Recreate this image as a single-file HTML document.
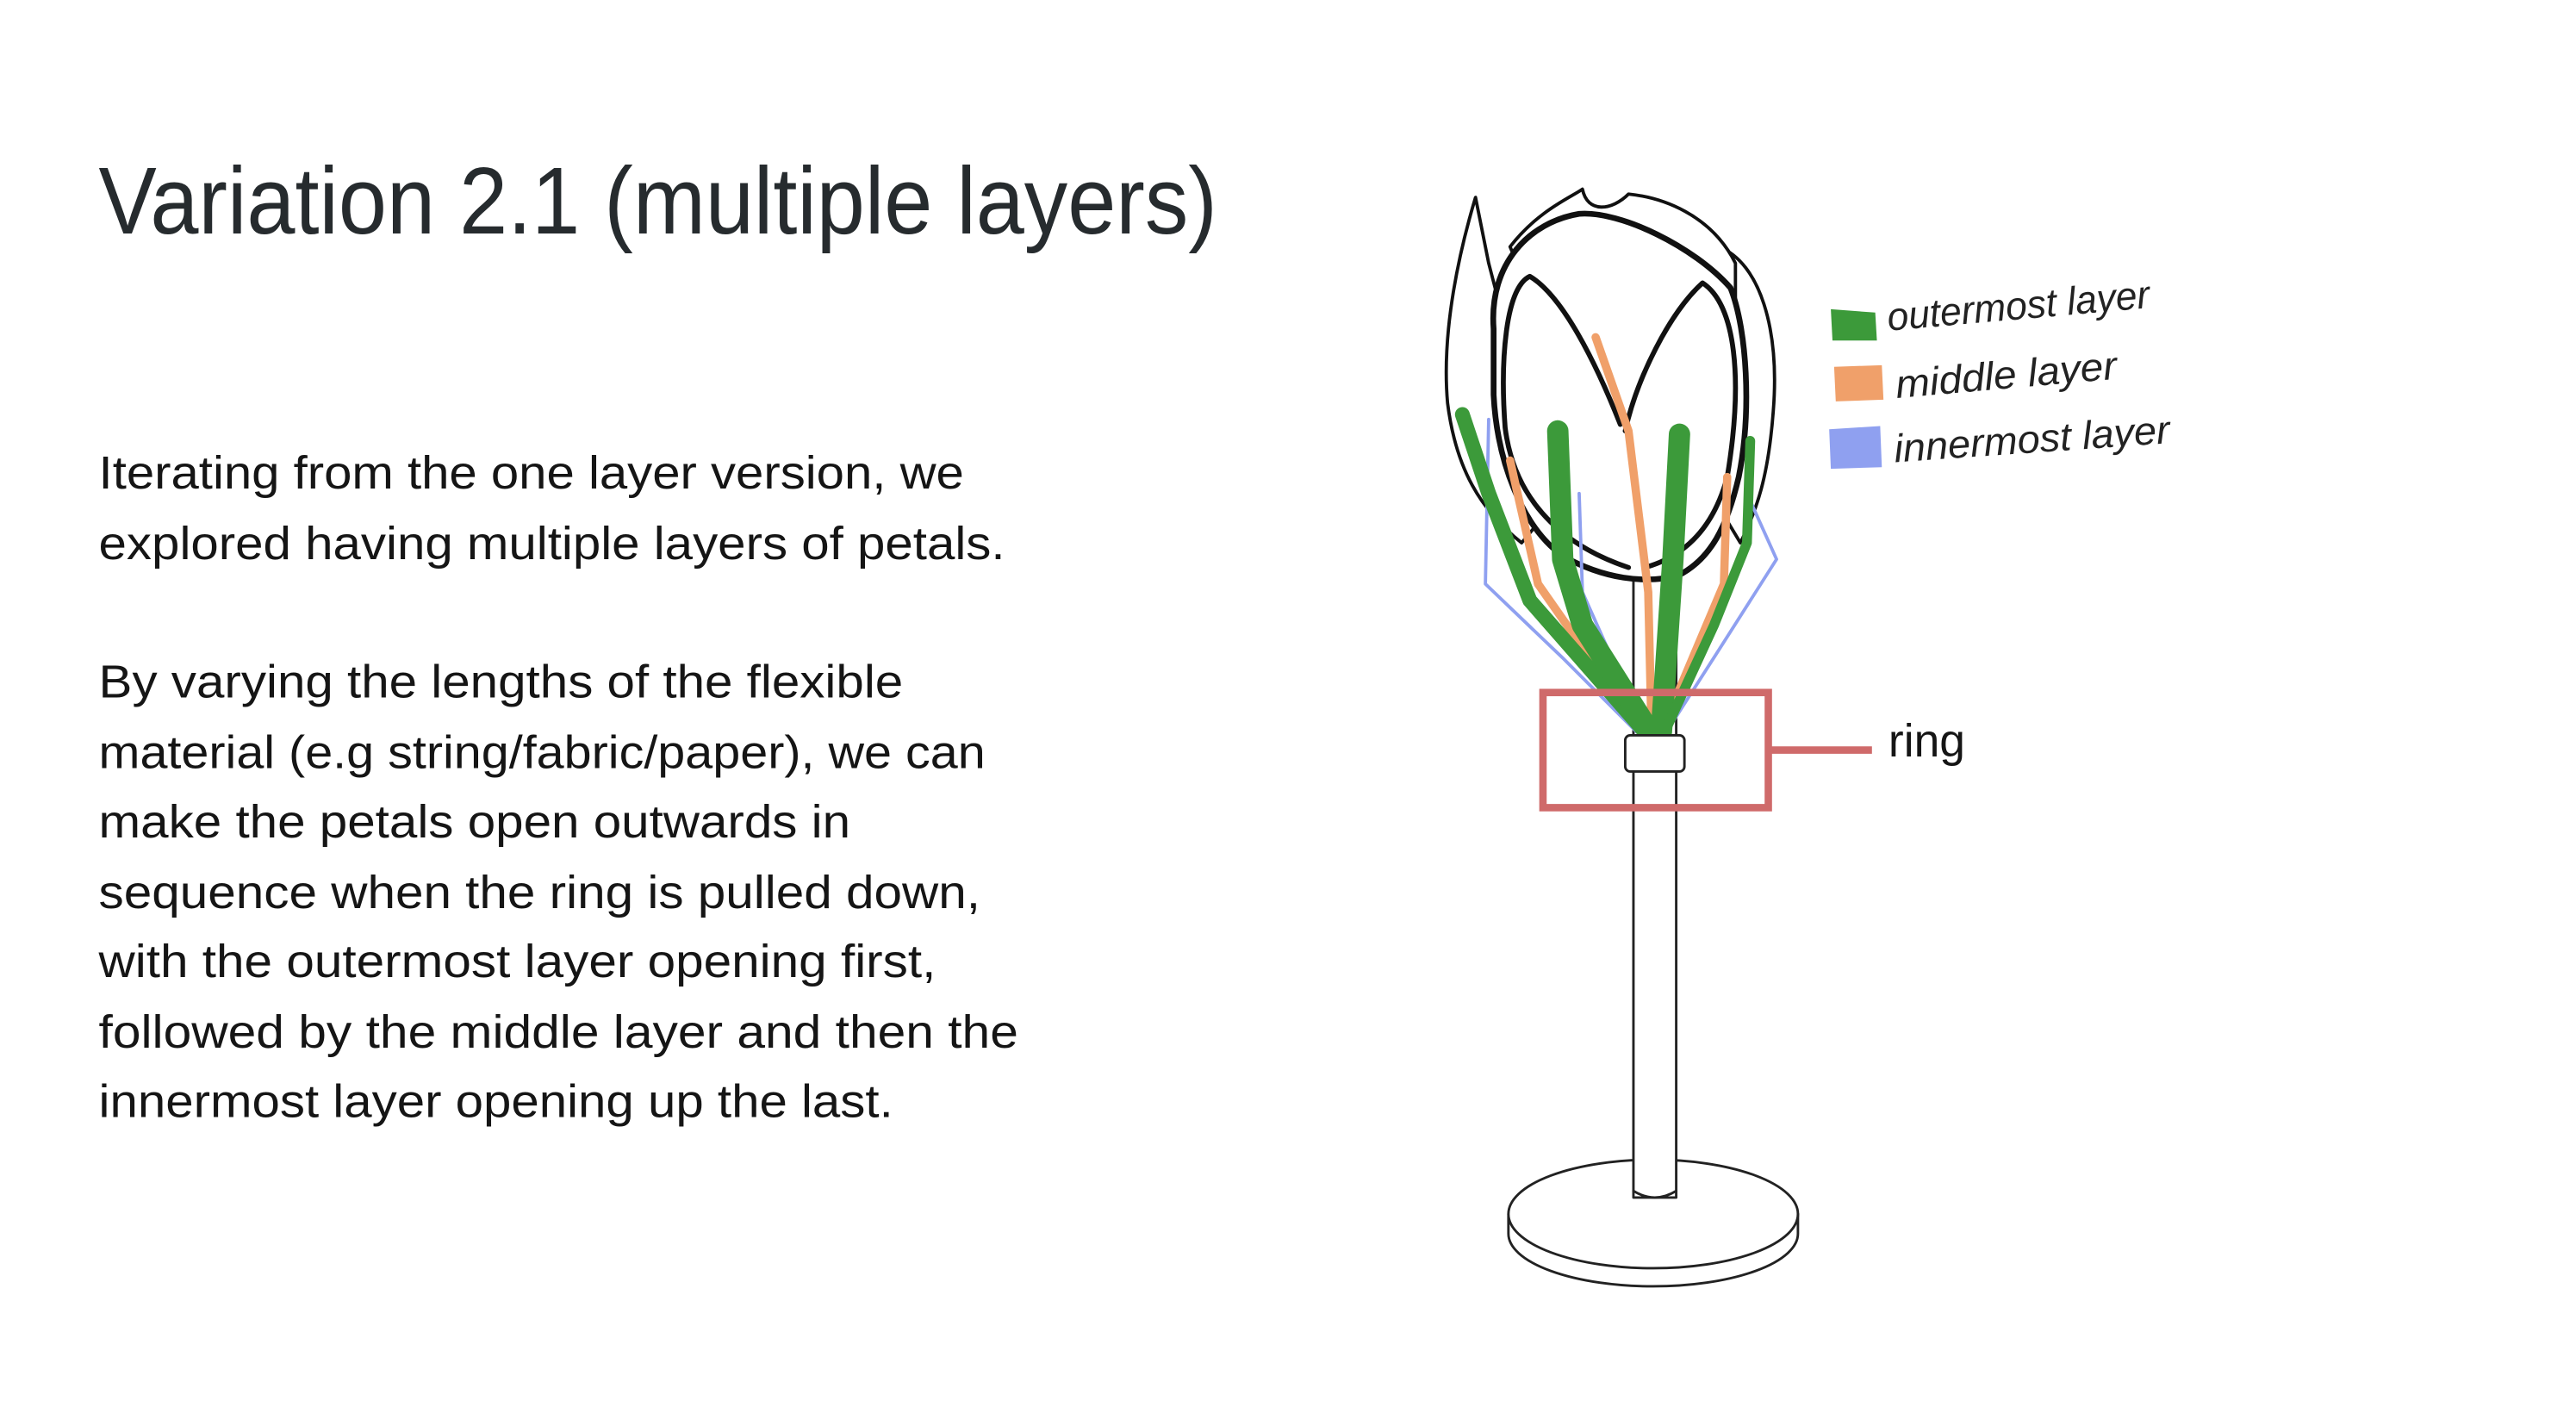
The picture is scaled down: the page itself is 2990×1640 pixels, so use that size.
<!DOCTYPE html>
<html><head><meta charset="utf-8"><style>
html,body{margin:0;padding:0;background:#fff;width:2990px;height:1640px;overflow:hidden}
svg{display:block}
</style></head><body>
<svg width="2990" height="1640" viewBox="0 0 1566 859" preserveAspectRatio="none" font-family="'Liberation Sans', sans-serif">
<rect x="0" y="0" width="1566" height="859" fill="#fff"/>
<text x="60" y="142" font-size="58" fill="#262b2e" textLength="680" lengthAdjust="spacingAndGlyphs">Variation 2.1 (multiple layers)</text>
<g font-size="28" fill="#151515">
<text x="60" y="297" textLength="526" lengthAdjust="spacingAndGlyphs">Iterating from the one layer version, we</text>
<text x="60" y="340" textLength="551" lengthAdjust="spacingAndGlyphs">explored having multiple layers of petals.</text>
<text x="60" y="424" textLength="489" lengthAdjust="spacingAndGlyphs">By varying the lengths of the flexible</text>
<text x="60" y="467" textLength="539" lengthAdjust="spacingAndGlyphs">material (e.g string/fabric/paper), we can</text>
<text x="60" y="509" textLength="457" lengthAdjust="spacingAndGlyphs">make the petals open outwards in</text>
<text x="60" y="552" textLength="536" lengthAdjust="spacingAndGlyphs">sequence when the ring is pulled down,</text>
<text x="60" y="594" textLength="509" lengthAdjust="spacingAndGlyphs">with the outermost layer opening first,</text>
<text x="60" y="637" textLength="559" lengthAdjust="spacingAndGlyphs">followed by the middle layer and then the</text>
<text x="60" y="679" textLength="483" lengthAdjust="spacingAndGlyphs">innermost layer opening up the last.</text>
</g>
<g fill="none" stroke-linecap="round" stroke-linejoin="round">
 <g stroke="#222" stroke-width="1.5" fill="#fff">
  <path d="M917 738 L917 750 A88 32 0 0 0 1093 750 L1093 738"/>
  <ellipse cx="1005" cy="738" rx="88" ry="33"/>
 </g>
 <rect x="993" y="352" width="26" height="376" fill="#fff" stroke="#222" stroke-width="1.5"/>
 <path d="M993 724 Q1006 732 1019 724" stroke="#222" stroke-width="1.5"/>
 <g stroke="#111" fill="#fff">
  <path stroke-width="2" d="M897 120 C888 150 876 200 880 245 C885 285 900 310 925 330 L950 300 C930 250 915 200 905 160 Z"/>
  <path stroke-width="2" d="M1045 150 C1070 160 1082 200 1078 250 C1075 290 1068 310 1058 330 L1040 300 Z"/>
  <path stroke-width="2" d="M918 150 C935 128 955 120 962 115 C965 130 980 128 990 118 C1010 120 1040 130 1055 160 L1055 230 L960 250 Z"/>
  <path stroke-width="3.5" d="M908 200 C905 160 930 135 960 130 C985 128 1030 150 1052 175 C1062 200 1065 250 1057 290 C1050 320 1040 340 1020 350 C1000 355 975 352 950 338 C925 320 910 280 908 240 Z"/>
  <path stroke-width="3" d="M985 258 C970 220 950 180 930 168 C915 175 912 220 915 260 C920 300 945 330 990 345"/>
  <path stroke-width="3" d="M988 262 C995 230 1015 190 1035 172 C1055 185 1060 230 1050 290 C1042 320 1025 338 1000 345"/>
 </g>
 <g stroke="#8fa0f0" stroke-width="2">
  <path d="M905 255 L903 355 L950 400 L995 445"/>
  <path d="M1062 300 L1080 340 L1045 395 L1013 445"/>
  <path d="M960 300 L962 360 L1000 445"/>
 </g>
 <g stroke="#f0a06a" stroke-width="5">
  <path d="M970 205 L990 262 L1002 360 L1004 445"/>
  <path d="M918 280 L935 355 L998 445"/>
  <path d="M1050 290 L1048 355 L1010 445"/>
 </g>
 <g stroke="#3c9a3a">
  <path stroke-width="9" d="M889 252 L905 300 L930 365 L1000 445"/>
  <path stroke-width="13" d="M947 262 L950 340 L962 380 L1003 445"/>
  <path stroke-width="13" d="M1021 264 L1017 340 L1010 445"/>
  <path stroke-width="6" d="M1064 268 L1062 330 L1042 380 L1012 445"/>
 </g>
 <rect x="988" y="447" width="36" height="22" rx="3" fill="#fff" stroke="#222" stroke-width="1.5"/>
</g>
<g>
 <rect x="938" y="421" width="137" height="70" fill="none" stroke="#cf6a6a" stroke-width="4.5"/>
 <line x1="1076" y1="456" x2="1138" y2="456" stroke="#cf6a6a" stroke-width="4.5"/>
 <text x="1148" y="460" font-size="28" fill="#151515">ring</text>
</g>
<g font-style="italic" font-size="24" fill="#222">
 <g>
  <path d="M1113 188 L1140 190 L1141 207 L1114 207 Z" fill="#3c9a3a"/>
  <text x="1148" y="201" transform="rotate(-5 1148 201)" textLength="160" lengthAdjust="spacingAndGlyphs">outermost layer</text>
 </g>
 <g>
  <path d="M1115 223 L1144 222 L1145 243 L1116 244 Z" fill="#f0a06a"/>
  <text x="1153" y="242" transform="rotate(-5 1153 242)" textLength="135" lengthAdjust="spacingAndGlyphs">middle layer</text>
 </g>
 <g>
  <path d="M1112 261 L1143 259 L1144 284 L1113 285 Z" fill="#8fa0f0"/>
  <text x="1152" y="281" transform="rotate(-4 1152 281)" textLength="168" lengthAdjust="spacingAndGlyphs">innermost layer</text>
 </g>
</g>
</svg>
</body></html>
